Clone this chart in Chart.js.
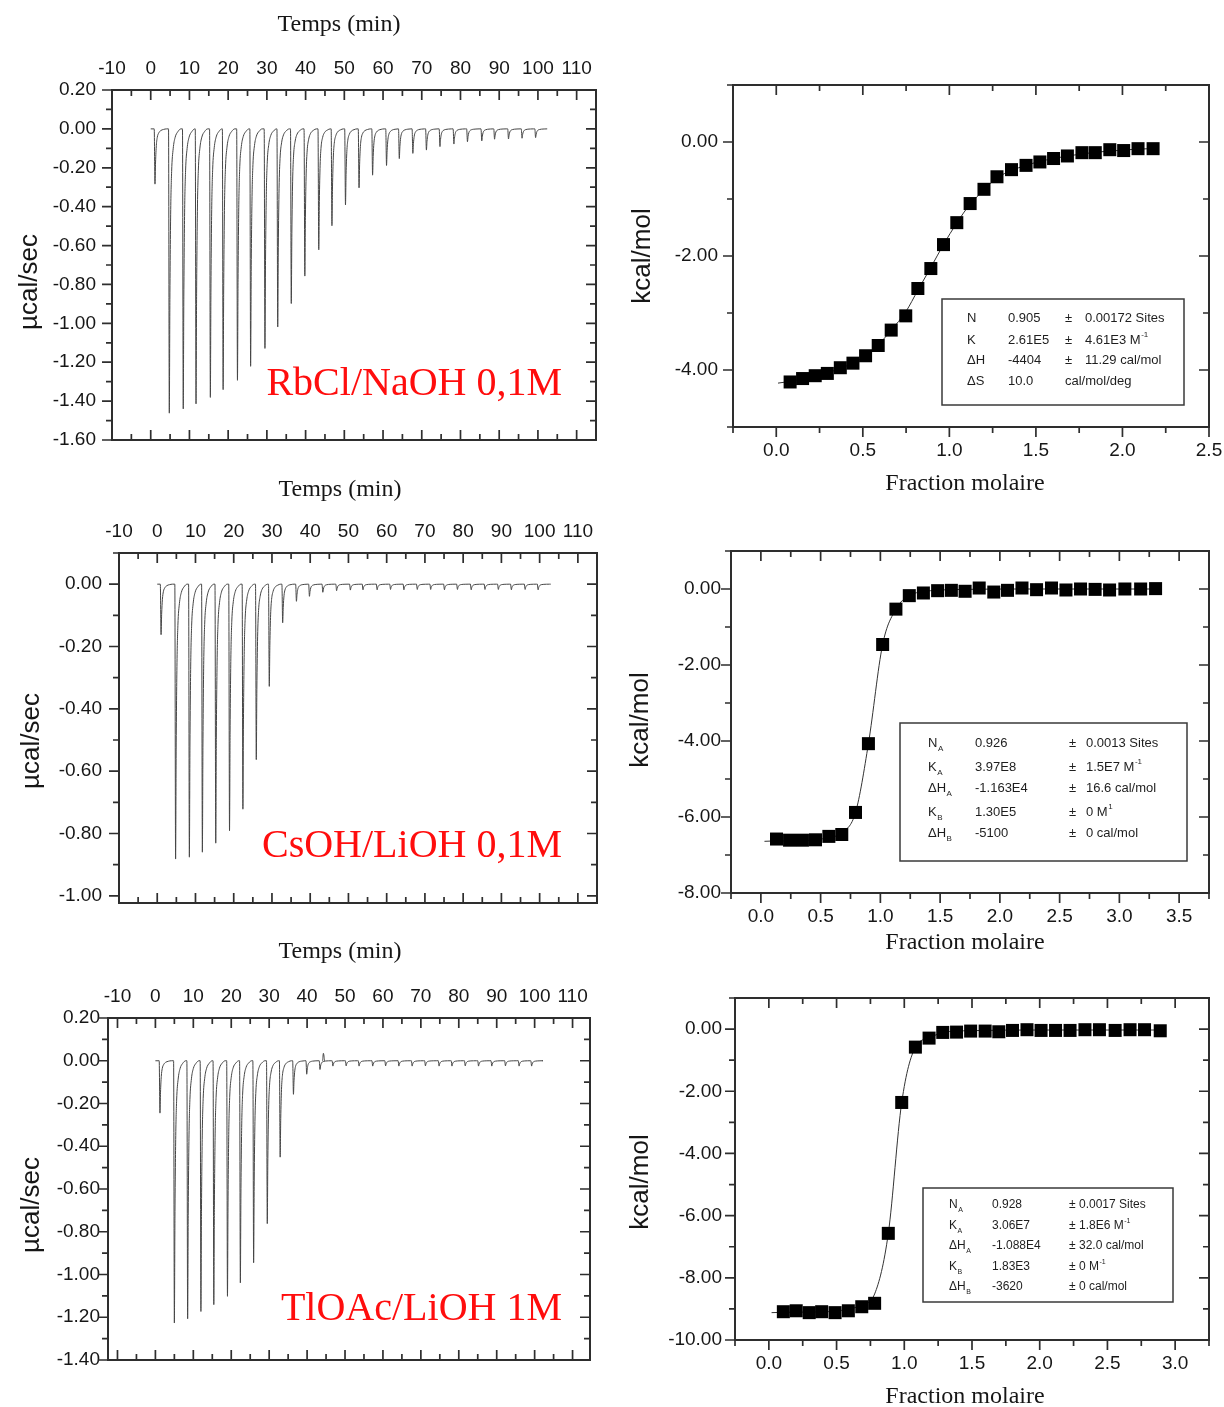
<!DOCTYPE html>
<html lang="fr">
<head>
<meta charset="utf-8">
<title>ITC - RbCl, CsOH, TlOAc</title>
<script src="https://cdn.jsdelivr.net/npm/chart.js@4.4.1/dist/chart.umd.min.js"></script>
<style>
  html, body { margin: 0; padding: 0; background: #fff; }
  body { position: relative; width: 1224px; height: 1407px; overflow: hidden; }
  canvas { position: absolute; }
</style>
</head>
<body>
<canvas id="rbclRaw" width="610" height="465" style="left:0;top:0"></canvas>
<canvas id="rbclItc" width="614" height="500" style="left:610px;top:0"></canvas>
<canvas id="csohRaw" width="610" height="465" style="left:0;top:465px"></canvas>
<canvas id="csohItc" width="614" height="465" style="left:610px;top:500px"></canvas>
<canvas id="tloacRaw" width="610" height="477" style="left:0;top:930px"></canvas>
<canvas id="tloacItc" width="614" height="442" style="left:610px;top:965px"></canvas>
<script>
// ---- raw thermograms : injection time (min) and peak height (µcal/sec)
const rbclTimes = [1.1, 4.8, 8.4, 11.7, 15.4, 18.7, 22.4, 25.8, 29.5, 32.8, 36.3, 39.8, 43.4, 46.8, 50.3, 53.8, 57.3, 60.9, 64.2, 67.7, 71.2, 74.7, 78.3, 81.8, 85.5, 88.8, 92.4, 95.9, 99.4]
const rbclPeaks = [-0.284, -1.462, -1.44, -1.414, -1.381, -1.341, -1.293, -1.221, -1.129, -1.019, -0.898, -0.757, -0.622, -0.498, -0.391, -0.303, -0.238, -0.188, -0.153, -0.126, -0.109, -0.091, -0.078, -0.066, -0.062, -0.053, -0.052, -0.048, -0.045]
const rbclSpan = [0, 102.4]

const csohTimes = [1.0, 4.8, 8.4, 11.8, 15.3, 18.9, 22.4, 25.9, 29.3, 32.8, 36.4, 39.8, 43.3, 46.9, 50.5, 53.8, 57.5, 61.0, 64.5, 68.0, 71.5, 75.1, 78.5, 82.1, 85.7, 89.2, 92.6, 96.2, 99.6]
const csohPeaks = [-0.162, -0.882, -0.876, -0.86, -0.831, -0.791, -0.722, -0.563, -0.328, -0.124, -0.055, -0.039, -0.026, -0.021, -0.019, -0.018, -0.018, -0.017, -0.018, -0.017, -0.017, -0.018, -0.017, -0.018, -0.017, -0.017, -0.018, -0.017, -0.018]
const csohSpan = [0, 102.9]

const tloacTimes = [1.2, 5.0, 8.5, 12.0, 15.4, 19.0, 22.4, 25.9, 29.5, 32.9, 36.4, 39.9, 43.4, 46.8, 50.3, 53.7, 57.3, 60.7, 64.2, 67.7, 71.2, 74.8, 78.2, 81.7, 85.2, 88.7, 92.3, 95.9, 99.2]
const tloacPeaks = [-0.245, -1.227, -1.207, -1.173, -1.141, -1.102, -1.039, -0.945, -0.762, -0.451, -0.157, -0.063, -0.041, -0.025, -0.024, -0.025, -0.025, -0.024, -0.025, -0.025, -0.024, -0.025, -0.025, -0.024, -0.025, -0.025, -0.024, -0.025, -0.025]
const tloacSpan = [0, 102]
const tloacSpikeTimes = [44.3]
const tloacSpikeHeights = [0.035]

// shape of one injection peak: [offset (min), fraction of height]
const peakShape = [[-0.2, 0], [0, 1], [0.15, 0.6], [0.35, 0.3], [0.6, 0.15], [1.0, 0.07], [1.5, 0.03], [2.2, 0.01], [3.0, 0]]
const spikeShape = [[-0.2, 0], [0, 1], [0.3, 0]]

// ---- integrated heats : molar ratio and kcal/mol
const rbclMolar = [0.08, 0.152, 0.225, 0.295, 0.37, 0.443, 0.516, 0.589, 0.664, 0.748, 0.818, 0.893, 0.966, 1.043, 1.12, 1.2, 1.275, 1.359, 1.443, 1.523, 1.602, 1.682, 1.766, 1.843, 1.927, 2.007, 2.09, 2.177]
const rbclHeat = [-4.21, -4.15, -4.1, -4.06, -3.96, -3.88, -3.75, -3.57, -3.3, -3.05, -2.57, -2.22, -1.8, -1.415, -1.08, -0.83, -0.61, -0.485, -0.41, -0.35, -0.29, -0.245, -0.187, -0.187, -0.135, -0.15, -0.117, -0.117]
const rbclFitX = [0.01, 0.08, 0.152, 0.225, 0.295, 0.37, 0.443, 0.516, 0.589, 0.664, 0.748, 0.818, 0.893, 0.966, 1.043, 1.12, 1.2, 1.275, 1.359, 1.443, 1.523, 1.602, 1.682, 1.766, 1.843, 1.927, 2.007, 2.09, 2.177]
const rbclFitY = [-4.23, -4.2, -4.16, -4.11, -4.05, -3.97, -3.88, -3.75, -3.56, -3.3, -2.98, -2.6, -2.2, -1.8, -1.42, -1.09, -0.84, -0.63, -0.5, -0.41, -0.34, -0.29, -0.245, -0.21, -0.18, -0.16, -0.14, -0.125, -0.115]

const csohMolar = [0.131, 0.24, 0.348, 0.457, 0.569, 0.677, 0.792, 0.9, 1.019, 1.13, 1.242, 1.36, 1.479, 1.594, 1.709, 1.827, 1.949, 2.064, 2.185, 2.307, 2.432, 2.553, 2.675, 2.797, 2.918, 3.046, 3.178, 3.303]
const csohHeat = [-6.58, -6.61, -6.61, -6.6, -6.51, -6.46, -5.88, -4.07, -1.46, -0.53, -0.175, -0.105, -0.044, -0.035, -0.06, 0.026, -0.08, -0.035, 0.026, -0.018, 0.026, -0.026, 0, -0.01, -0.026, 0, 0, 0.01]
const csohFitX = [0.03, 0.131, 0.24, 0.348, 0.457, 0.569, 0.677, 0.792, 0.9, 1.019, 1.13, 1.242, 1.36, 1.479, 1.709, 2.185, 2.797, 3.303]
const csohFitY = [-6.64, -6.63, -6.63, -6.62, -6.6, -6.54, -6.42, -5.88, -4.07, -1.46, -0.53, -0.17, -0.07, -0.03, -0.01, 0, 0, 0]

const tloacMolar = [0.107, 0.202, 0.298, 0.39, 0.489, 0.587, 0.686, 0.781, 0.882, 0.981, 1.082, 1.183, 1.284, 1.386, 1.49, 1.597, 1.698, 1.799, 1.906, 2.01, 2.117, 2.224, 2.334, 2.441, 2.557, 2.667, 2.774, 2.89]
const tloacHeat = [-9.09, -9.06, -9.12, -9.09, -9.12, -9.06, -8.93, -8.82, -6.57, -2.36, -0.58, -0.29, -0.107, -0.097, -0.064, -0.064, -0.086, -0.043, -0.02, -0.043, -0.043, -0.043, -0.02, -0.02, -0.043, -0.02, -0.02, -0.054]
const tloacFitX = [0.02, 0.107, 0.298, 0.489, 0.686, 0.781, 0.882, 0.981, 1.082, 1.183, 1.284, 1.49, 2.01, 2.557, 2.89]
const tloacFitY = [-9.12, -9.11, -9.1, -9.07, -8.87, -8.52, -6.57, -2.36, -0.58, -0.29, -0.11, -0.05, -0.03, -0.03, -0.03]

// ---- fit results printed in the boxes
const rbclParams = [
    ['N', '0.905', '±', '0.00172 Sites'],
    ['K', '2.61E5', '±', ['4.61E3 M', {sup: '-1'}]],
    ['ΔH', '-4404', '±', '11.29 cal/mol'],
    ['ΔS', '10.0', 'cal/mol/deg', '']
]
const csohParams = [
    [['N', {sub: 'A'}], '0.926', '±', '0.0013 Sites'],
    [['K', {sub: 'A'}], '3.97E8', '±', ['1.5E7 M', {sup: '-1'}]],
    [['ΔH', {sub: 'A'}], '-1.163E4', '±', '16.6 cal/mol'],
    [['K', {sub: 'B'}], '1.30E5', '±', ['0 M', {sup: '1'}]],
    [['ΔH', {sub: 'B'}], '-5100', '±', '0 cal/mol']
]
const tloacParams = [
    [['N', {sub: 'A'}], '0.928', '±', '0.0017 Sites'],
    [['K', {sub: 'A'}], '3.06E7', '±', ['1.8E6 M', {sup: '-1'}]],
    [['ΔH', {sub: 'A'}], '-1.088E4', '±', '32.0 cal/mol'],
    [['K', {sub: 'B'}], '1.83E3', '±', ['0 M', {sup: '-1'}]],
    [['ΔH', {sub: 'B'}], '-3620', '±', '0 cal/mol']
]

// ---- tick labels
const timeTicks = [-10, 0, 10, 20, 30, 40, 50, 60, 70, 80, 90, 100, 110]
const rbclPowerTicks = [0.2, 0, -0.2, -0.4, -0.6, -0.8, -1, -1.2, -1.4, -1.6]
const csohPowerTicks = [0, -0.2, -0.4, -0.6, -0.8, -1]
const tloacPowerTicks = [0.2, 0, -0.2, -0.4, -0.6, -0.8, -1, -1.2, -1.4]
const rbclMolarTicks = [0, 0.5, 1, 1.5, 2, 2.5]
const csohMolarTicks = [0, 0.5, 1, 1.5, 2, 2.5, 3, 3.5]
const tloacMolarTicks = [0, 0.5, 1, 1.5, 2, 2.5, 3]
const rbclHeatTicks = [0, -2, -4]
const csohHeatTicks = [0, -2, -4, -6, -8]
const tloacHeatTicks = [0, -2, -4, -6, -8, -10]

const INK = '#161616'
const TICK_FONT = {family: 'Liberation Sans', size: 19}
const SERIF = '"Liberation Serif", "Times New Roman", serif'
const SANS = '"Liberation Sans", Arial, sans-serif'

Chart.defaults.font.family = 'Liberation Sans'

/**
 * Build a thermogram trace out of the injection peaks
 */
function buildTrace(times, heights, shape, span) {
    let pts = []
    if (span) pts.push({x: span[0], y: 0})
    times.forEach((t, i) => {
        shape.forEach(s => pts.push({x: t + s[0], y: heights[i] * s[1]}))
    })
    if (span) pts.push({x: span[1], y: 0})
    return pts
}

function zip(xs, ys) {
    return xs.map((x, i) => ({x: x, y: ys[i]}))
}

/**
 * Box around the plot, with major and minor tick marks on each side
 */
function framePlugin(sides) {
    return {
        id: 'frame',
        afterDraw(chart) {
            const ctx = chart.ctx
            const a = chart.chartArea
            ctx.save()
            ctx.strokeStyle = '#2e2e2e'
            ctx.lineWidth = 2
            ctx.strokeRect(a.left, a.top, a.right - a.left, a.bottom - a.top)
            ctx.lineWidth = 1.7
            ctx.beginPath()
            sides.forEach(side => {
                const horiz = side.at == 'top' || side.at == 'bottom'
                const scale = horiz ? chart.scales.x : chart.scales.y
                const major = scale.ticks.map(t => t.value)
                const sign = side.dir == 'in' ? 1 : -1
                for (let i = Math.ceil(scale.min / side.minor - 1e-9); i * side.minor <= scale.max + 1e-9; i++) {
                    const v = i * side.minor
                    const len = major.some(m => Math.abs(m - v) < 1e-6) ? 10 : 6
                    const p = scale.getPixelForValue(v)
                    if (side.at == 'left') { ctx.moveTo(a.left, p); ctx.lineTo(a.left + sign * len, p) }
                    if (side.at == 'right') { ctx.moveTo(a.right, p); ctx.lineTo(a.right - sign * len, p) }
                    if (side.at == 'top') { ctx.moveTo(p, a.top); ctx.lineTo(p, a.top + sign * len) }
                    if (side.at == 'bottom') { ctx.moveTo(p, a.bottom); ctx.lineTo(p, a.bottom - sign * len) }
                }
            })
            ctx.stroke()
            ctx.restore()
        }
    }
}

/**
 * Text with sub / superscripts, left aligned
 */
function drawRich(ctx, parts, x, y, size) {
    [].concat(parts).forEach(p => {
        let text = p, s = size, dy = 0
        if (typeof p == 'object') {
            text = p.sub || p.sup
            s = Math.round(size * 0.6)
            dy = p.sub ? size * 0.45 : -size * 0.42
        }
        ctx.font = s + 'px ' + SANS
        ctx.fillText(text, x, y + dy)
        x += ctx.measureText(text).width + (typeof p == 'object' ? 0 : 0.5)
    })
}

function drawTable(ctx, t) {
    ctx.strokeStyle = '#3a3a3a'
    ctx.lineWidth = 1.5
    ctx.strokeRect(t.rect[0], t.rect[1], t.rect[2], t.rect[3])
    ctx.fillStyle = '#1e1e1e'
    ctx.textAlign = 'left'
    ctx.textBaseline = 'middle'
    t.cells.forEach((row, r) => row.forEach((cell, c) => drawRich(ctx, cell, t.cols[c], t.rows[r], t.size)))
}

/**
 * Axis titles, sample labels and fit tables
 */
function notesPlugin(notes) {
    return {
        id: 'notes',
        afterDraw(chart) {
            const ctx = chart.ctx
            ctx.save()
            notes.texts.forEach(t => {
                ctx.save()
                ctx.font = t.font
                ctx.fillStyle = t.color || INK
                ctx.textAlign = t.align || 'center'
                ctx.textBaseline = t.baseline || 'middle'
                ctx.translate(t.x, t.y)
                if (t.rotate) ctx.rotate(t.rotate)
                ctx.fillText(t.text, 0, 0)
                ctx.restore()
            })
            if (notes.table) drawTable(ctx, notes.table)
            ctx.restore()
        }
    }
}

function noPadding(s) {
    s.paddingLeft = 0
    s.paddingRight = 0
    s.paddingTop = 0
    s.paddingBottom = 0
}

function axis(opts) {
    return {
        type: 'linear',
        position: opts.position,
        min: opts.range[0],
        max: opts.range[1],
        afterBuildTicks: s => { s.ticks = opts.ticks.map(v => ({value: v})) },
        afterFit: s => {
            if (opts.width != null) s.width = opts.width
            if (opts.height != null) s.height = opts.height
            noPadding(s)
        },
        grid: {display: false, drawTicks: false},
        border: {display: false},
        ticks: {
            padding: opts.padding,
            font: TICK_FONT,
            color: INK,
            maxRotation: 0,
            autoSkip: false,
            callback: v => v.toFixed(opts.digits)
        }
    }
}

/**
 * Raw power trace (µcal/sec vs time)
 */
function drawThermo(id, cfg) {
    const canvas = document.getElementById(id)
    const a = cfg.area
    return new Chart(canvas, {
        type: 'line',
        data: {
            datasets: cfg.traces.map(pts => ({
                data: pts,
                borderColor: '#454545',
                borderWidth: 1,
                pointRadius: 0,
                cubicInterpolationMode: 'monotone'
            }))
        },
        options: {
            responsive: false,
            animation: false,
            events: [],
            layout: {autoPadding: false, padding: {left: 0, top: 0, right: canvas.width - a.right, bottom: canvas.height - a.bottom}},
            plugins: {legend: {display: false}, tooltip: {enabled: false}},
            scales: {
                x: axis({position: 'top', range: cfg.xRange, ticks: timeTicks, height: a.top, padding: 10, digits: 0}),
                y: axis({position: 'left', range: cfg.yRange, ticks: cfg.yTicks, width: a.left, padding: cfg.yPad, digits: 2})
            }
        },
        plugins: [
            framePlugin([
                {at: 'left', dir: 'out', minor: 0.1},
                {at: 'right', dir: 'in', minor: 0.1},
                {at: 'top', dir: 'in', minor: 5},
                {at: 'bottom', dir: 'in', minor: 5}
            ]),
            notesPlugin({texts: [
                {text: 'Temps (min)', x: cfg.timeTitle[0], y: cfg.timeTitle[1], font: '24px ' + SERIF},
                {text: 'µcal/sec', x: cfg.powerTitle[0], y: cfg.powerTitle[1], font: '26px ' + SANS, rotate: -Math.PI / 2},
                {text: cfg.sample, x: 562, y: cfg.sampleY, font: '40px ' + SERIF, color: '#ff0d0d', align: 'right', baseline: 'alphabetic'}
            ]})
        ]
    })
}

/**
 * Integrated heats with the fitted curve
 */
function drawItc(id, cfg) {
    const canvas = document.getElementById(id)
    const a = cfg.area
    return new Chart(canvas, {
        type: 'line',
        data: {
            datasets: [{
                data: zip(cfg.molar, cfg.heat),
                showLine: false,
                pointStyle: 'rect',
                pointRadius: 9.2,
                backgroundColor: '#000',
                borderColor: '#000',
                borderWidth: 0
            }, {
                data: zip(cfg.fitX, cfg.fitY),
                borderColor: '#333',
                borderWidth: 1,
                pointRadius: 0,
                cubicInterpolationMode: 'monotone'
            }]
        },
        options: {
            responsive: false,
            animation: false,
            events: [],
            layout: {autoPadding: false, padding: {left: 0, top: a.top, right: canvas.width - a.right, bottom: 0}},
            plugins: {legend: {display: false}, tooltip: {enabled: false}},
            scales: {
                x: axis({position: 'bottom', range: cfg.xRange, ticks: cfg.xTicks, height: canvas.height - a.bottom, padding: 12, digits: 1}),
                y: axis({position: 'left', range: cfg.yRange, ticks: cfg.yTicks, width: a.left, padding: cfg.yPad, digits: 2})
            }
        },
        plugins: [
            framePlugin([
                {at: 'left', dir: 'out', minor: 1},
                {at: 'right', dir: 'in', minor: 1},
                {at: 'top', dir: 'in', minor: 0.25},
                {at: 'bottom', dir: 'out', minor: 0.25}
            ]),
            notesPlugin({
                texts: [
                    {text: 'kcal/mol', x: cfg.heatTitle[0], y: cfg.heatTitle[1], font: '26px ' + SANS, rotate: -Math.PI / 2},
                    {text: 'Fraction molaire', x: 355, y: cfg.molarTitleY, font: '24px ' + SERIF}
                ],
                table: cfg.table
            })
        ]
    })
}

drawThermo('rbclRaw', {
    area: {left: 112, top: 90, right: 596, bottom: 440},
    xRange: [-10, 115], yRange: [-1.6, 0.2], yTicks: rbclPowerTicks, yPad: 16,
    traces: [buildTrace(rbclTimes, rbclPeaks, peakShape, rbclSpan)],
    timeTitle: [339, 25], powerTitle: [30, 282],
    sample: 'RbCl/NaOH 0,1M', sampleY: 395
})

drawThermo('csohRaw', {
    area: {left: 119, top: 88, right: 597, bottom: 438},
    xRange: [-10, 115], yRange: [-1.023, 0.1], yTicks: csohPowerTicks, yPad: 17,
    traces: [buildTrace(csohTimes, csohPeaks, peakShape, csohSpan)],
    timeTitle: [340, 25], powerTitle: [32, 276],
    sample: 'CsOH/LiOH 0,1M', sampleY: 392
})

drawThermo('tloacRaw', {
    area: {left: 108, top: 88, right: 590, bottom: 430},
    xRange: [-12.5, 114.6], yRange: [-1.4, 0.2], yTicks: tloacPowerTicks, yPad: 8,
    traces: [
        buildTrace(tloacTimes, tloacPeaks, peakShape, tloacSpan),
        buildTrace(tloacSpikeTimes, tloacSpikeHeights, spikeShape)
    ],
    timeTitle: [340, 22], powerTitle: [32, 275],
    sample: 'TlOAc/LiOH 1M', sampleY: 390
})

drawItc('rbclItc', {
    area: {left: 123, top: 85, right: 599, bottom: 427},
    xRange: [-0.25, 2.5], xTicks: rbclMolarTicks,
    yRange: [-5, 1], yTicks: rbclHeatTicks, yPad: 15,
    molar: rbclMolar, heat: rbclHeat, fitX: rbclFitX, fitY: rbclFitY,
    heatTitle: [33, 256], molarTitleY: 484,
    table: {rect: [332, 299, 242, 106], cols: [357, 398, 455, 475], rows: [318, 340, 360, 381], size: 13, cells: rbclParams}
})

drawItc('csohItc', {
    area: {left: 121, top: 51, right: 599, bottom: 393},
    xRange: [-0.25, 3.75], xTicks: csohMolarTicks,
    yRange: [-8, 1], yTicks: csohHeatTicks, yPad: 10,
    molar: csohMolar, heat: csohHeat, fitX: csohFitX, fitY: csohFitY,
    heatTitle: [31, 220], molarTitleY: 443,
    table: {rect: [290, 223, 287, 138], cols: [318, 365, 459, 476], rows: [243, 267, 288, 312, 333], size: 13, cells: csohParams}
})

drawItc('tloacItc', {
    area: {left: 125, top: 33, right: 599, bottom: 375},
    xRange: [-0.25, 3.25], xTicks: tloacMolarTicks,
    yRange: [-10, 1], yTicks: tloacHeatTicks, yPad: 13,
    molar: tloacMolar, heat: tloacHeat, fitX: tloacFitX, fitY: tloacFitY,
    heatTitle: [31, 217], molarTitleY: 432,
    table: {rect: [313, 223, 250, 114], cols: [339, 382, 459, 469], rows: [240, 261, 281, 302, 322], size: 12, cells: tloacParams}
})
</script>
</body>
</html>
